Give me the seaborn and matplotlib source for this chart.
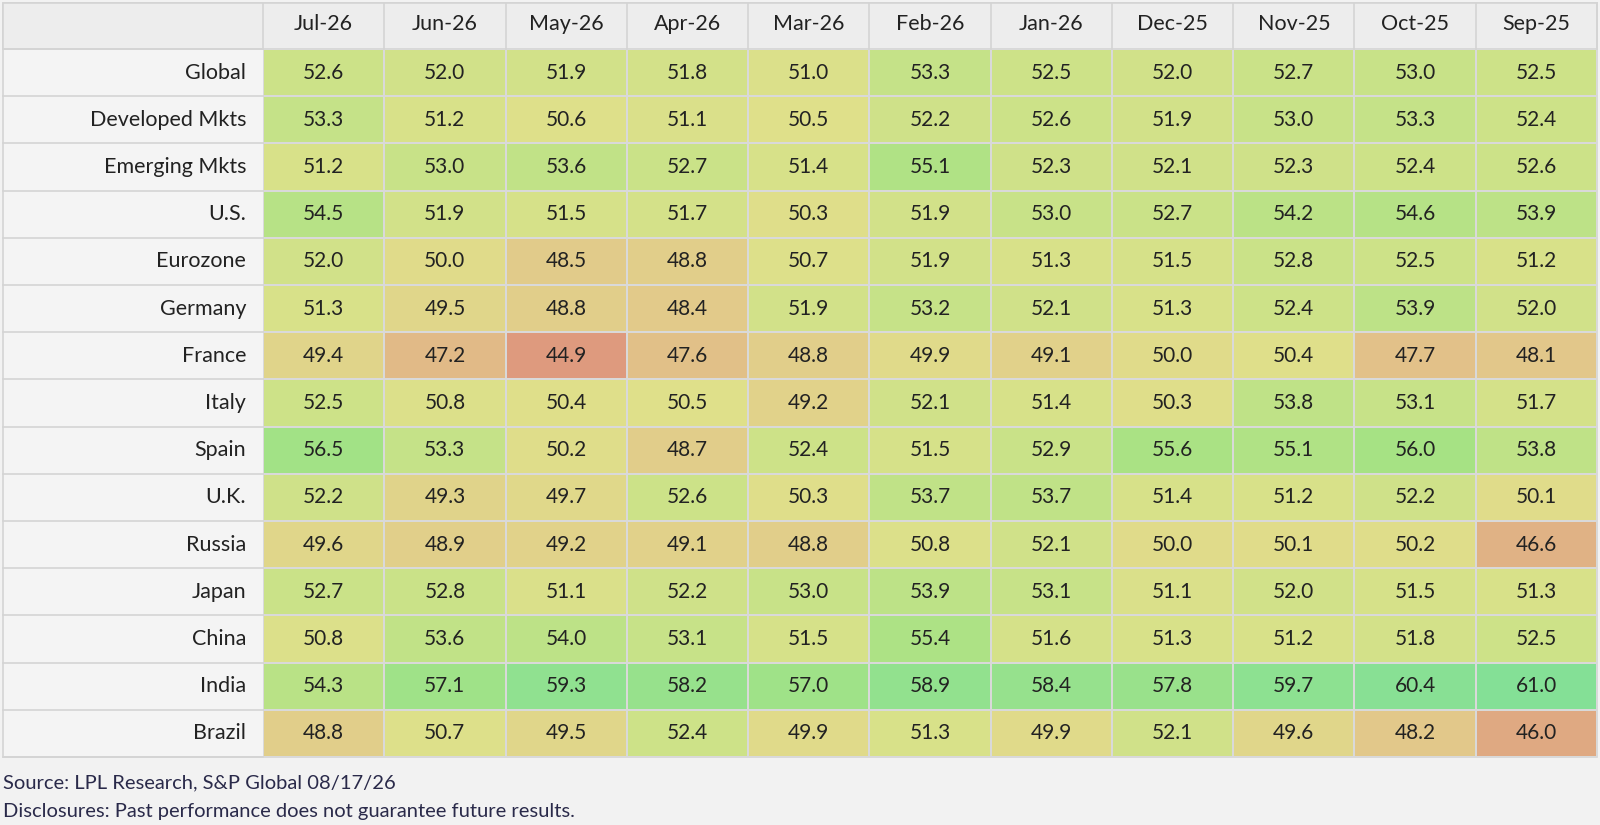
import numpy as np
import pandas as pd
import matplotlib
matplotlib.use('Agg')
import matplotlib.pyplot as plt
import seaborn as sns
from matplotlib.colors import LinearSegmentedColormap
from matplotlib.patches import Rectangle

months = ['Jul-26', 'Jun-26', 'May-26', 'Apr-26', 'Mar-26', 'Feb-26', 'Jan-26',
          'Dec-25', 'Nov-25', 'Oct-25', 'Sep-25']
regions = ['Global', 'Developed Mkts', 'Emerging Mkts', 'U.S.', 'Eurozone', 'Germany',
           'France', 'Italy', 'Spain', 'U.K.', 'Russia', 'Japan', 'China', 'India', 'Brazil']
values = [
    [52.6, 52.0, 51.9, 51.8, 51.0, 53.3, 52.5, 52.0, 52.7, 53.0, 52.5],
    [53.3, 51.2, 50.6, 51.1, 50.5, 52.2, 52.6, 51.9, 53.0, 53.3, 52.4],
    [51.2, 53.0, 53.6, 52.7, 51.4, 55.1, 52.3, 52.1, 52.3, 52.4, 52.6],
    [54.5, 51.9, 51.5, 51.7, 50.3, 51.9, 53.0, 52.7, 54.2, 54.6, 53.9],
    [52.0, 50.0, 48.5, 48.8, 50.7, 51.9, 51.3, 51.5, 52.8, 52.5, 51.2],
    [51.3, 49.5, 48.8, 48.4, 51.9, 53.2, 52.1, 51.3, 52.4, 53.9, 52.0],
    [49.4, 47.2, 44.9, 47.6, 48.8, 49.9, 49.1, 50.0, 50.4, 47.7, 48.1],
    [52.5, 50.8, 50.4, 50.5, 49.2, 52.1, 51.4, 50.3, 53.8, 53.1, 51.7],
    [56.5, 53.3, 50.2, 48.7, 52.4, 51.5, 52.9, 55.6, 55.1, 56.0, 53.8],
    [52.2, 49.3, 49.7, 52.6, 50.3, 53.7, 53.7, 51.4, 51.2, 52.2, 50.1],
    [49.6, 48.9, 49.2, 49.1, 48.8, 50.8, 52.1, 50.0, 50.1, 50.2, 46.6],
    [52.7, 52.8, 51.1, 52.2, 53.0, 53.9, 53.1, 51.1, 52.0, 51.5, 51.3],
    [50.8, 53.6, 54.0, 53.1, 51.5, 55.4, 51.6, 51.3, 51.2, 51.8, 52.5],
    [54.3, 57.1, 59.3, 58.2, 57.0, 58.9, 58.4, 57.8, 59.7, 60.4, 61.0],
    [48.8, 50.7, 49.5, 52.4, 49.9, 51.3, 49.9, 52.1, 49.6, 48.2, 46.0],
]
df = pd.DataFrame(values, index=regions, columns=months)

vmin, vmax = 44.9, 61.0
stops = [(44.9, '#de9a7e'), (48.0, '#e2c68a'), (50.5, '#dfe08a'),
         (53.0, '#c8e288'), (56.0, '#a6e284'), (61.0, '#84e096')]
cmap = LinearSegmentedColormap.from_list(
    'pmi', [((v - vmin) / (vmax - vmin), c) for v, c in stops])

plt.rcParams['font.family'] = ['Lato', 'DejaVu Sans']
W, H = 1600, 825
fig = plt.figure(figsize=(16, 8.25), dpi=100, facecolor='#f2f2f2')

x0, x1 = 263, 1597
y_top, y_head, y_bot = 3, 49, 757
ax = fig.add_axes([x0 / W, 1 - y_bot / H, (x1 - x0) / W, (y_bot - y_head) / H])
sns.heatmap(df, ax=ax, cmap=cmap, vmin=vmin, vmax=vmax, cbar=False,
            annot=True, fmt='.1f', annot_kws={'fontsize': 15, 'color': '#222222'},
            linewidths=1.2, linecolor='#d9d9d9')
ax.xaxis.tick_top()
ax.set_xticklabels(months, fontsize=15.5, color='#222222')
ax.set_yticklabels(regions, rotation=0, fontsize=15.5, color='#222222')
ax.tick_params(length=0, pad=12)
ax.tick_params(axis='x', pad=11)
ax.set_xlabel('')
ax.set_ylabel('')

# header and label column backgrounds with grid lines
gc = '#d4d4d4'
fig.patches.append(Rectangle((3 / W, 1 - y_bot / H), (x1 - 3) / W, (y_bot - y_top) / H,
                             transform=fig.transFigure, facecolor='#f4f4f4',
                             edgecolor=gc, lw=1.2, zorder=-1))
fig.patches.append(Rectangle((3 / W, 1 - y_head / H), (x1 - 3) / W, (y_head - y_top) / H,
                             transform=fig.transFigure, facecolor='#ededed',
                             edgecolor=gc, lw=1.2, zorder=-1))
cw = (x1 - x0) / len(months)
for i in range(len(months) + 1):
    xx = (x0 + i * cw) / W
    fig.add_artist(plt.Line2D([xx, xx], [1 - y_head / H, 1 - y_top / H], color=gc, lw=1.2))
rh = (y_bot - y_head) / len(regions)
for j in range(len(regions) + 1):
    yy = 1 - (y_head + j * rh) / H
    fig.add_artist(plt.Line2D([3 / W, x0 / W], [yy, yy], color=gc, lw=1.2))

fig.text(3 / W, 1 - 783 / H, 'Source: LPL Research, S&P Global 08/17/26',
         fontsize=14.5, color='#2a2a4a', va='center')
fig.text(3 / W, 1 - 811 / H, 'Disclosures: Past performance does not guarantee future results.',
         fontsize=14.5, color='#2a2a4a', va='center')

fig.savefig('out.png', dpi=100, facecolor=fig.get_facecolor())
